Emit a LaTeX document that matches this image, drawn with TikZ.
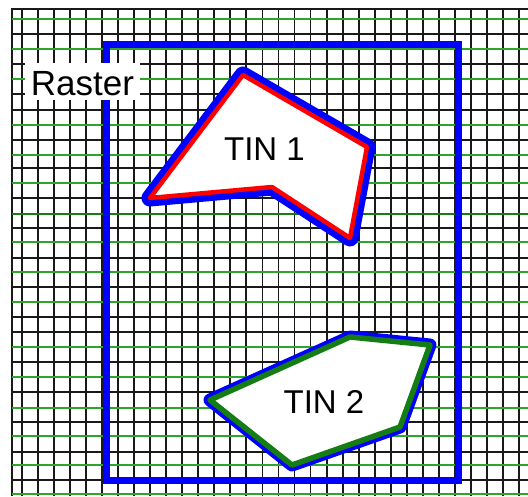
\documentclass[tikz,border=0pt]{standalone}
\usepackage{fontspec}
\setmainfont{Liberation Sans}
\usepackage{tikz}
\usetikzlibrary{positioning}
\definecolor{gridgreen}{RGB}{45,165,45}
\definecolor{tingreen}{RGB}{20,125,20}
\definecolor{edgeblue}{RGB}{0,0,255}
\definecolor{edgered}{RGB}{255,0,0}
\tikzset{
  gridline/.style={line width=1.9pt, color=black!90},
  greenline/.style={line width=1.9pt, color=gridgreen},
  tinlabel/.style={font=\fontsize{33}{33}\selectfont, inner sep=0pt, anchor=base},
}

\begin{document}
\begin{tikzpicture}[x=1pt, y=-1pt]
        \useasboundingbox (0,0) rectangle (528,496);
        % raster grid
        \foreach \gx in {0,...,31} {
            \draw[gridline] ({22+16.03*\gx},9)--({22+16.03*\gx},496);
        }
        \draw[gridline] (12,496)--(12,9)--(528,9);
        \foreach \gy in {34,64,94,110,140,168,198,228,258,287,317,332,362,392,422,452,480} {
            \draw[gridline] (12,\gy)--(528,\gy);
        }
        \foreach \gy in {19,49,79,125,155,183,242,272,302,347,377,408,436,465,494} {
            \draw[greenline] (12,\gy)--(528,\gy);
        }
        \draw[greenline, line width=2.6pt, color=tingreen] (12,214)--(528,214);
        % extent
        \draw[color=edgeblue, line width=7pt] (106,44)--(458,44)--(458,480)--(106,480)--cycle;
        \node[fill=white, minimum width=115pt, minimum height=37pt, inner sep=0pt,
              text height=27pt, text depth=0pt, font=\fontsize{35}{35}\selectfont]
              (raster) at (82.5,81.5) {Raster};
        % TIN 1
        \draw[color=edgeblue, line width=17pt, line join=round] (243,75)--(367,147)--(350,238)--(272,187)--(150,198)--cycle;
        \draw[color=edgered, fill=white, line width=4.5pt, line join=round] (243,75)--(367,147)--(350,238)--(272,187)--(150,198)--cycle;
        \node[tinlabel] (tinone) at (264.5,160) {TIN 1};
        % TIN 2
        \draw[color=edgeblue, line width=13pt, line join=round] (350,337)--(430,345)--(400,427)--(292,465)--(210,400)--cycle;
        \draw[color=tingreen, fill=white, line width=5.5pt, line join=round] (350,337)--(430,345)--(400,427)--(292,465)--(210,400)--cycle;
        \node[tinlabel] (tintwo) at (324,413) {TIN 2};
    \end{tikzpicture}
\end{document}
